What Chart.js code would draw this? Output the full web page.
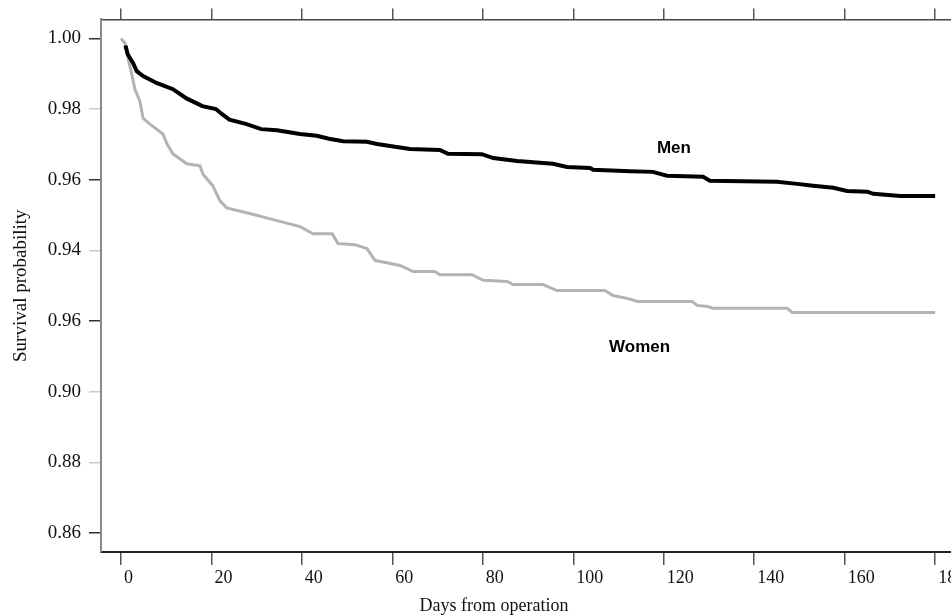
<!DOCTYPE html>
<html>
<head>
<meta charset="utf-8">
<script src="https://cdn.jsdelivr.net/npm/chart.js@4"></script>
<style>
  html, body { margin: 0; padding: 0; background: #ffffff; }
  #wrap { width: 951px; height: 615px; position: relative; }
</style>
</head>
<body>
<div id="wrap"><canvas id="c" width="951" height="615"></canvas></div>
<script>
// ---- data ----
const menDays = [1, 1.5, 2.7, 3.5, 4.9, 8, 11.5, 14.5, 18, 21, 22.3, 24, 27.8, 31, 34.5, 39.6, 43.3, 46, 49.1, 54.4, 56.6, 59.5, 63.9, 70.5, 72.3, 79.8, 82.3, 87.6, 95.5, 98.6, 103.7, 104.4, 112.6, 117.6, 120.7, 128.7, 130.2, 145, 149.5, 153, 157.5, 160.5, 165, 166.3, 172.3, 180];
const menSurv = [0.998, 0.9955, 0.993, 0.9907, 0.9893, 0.9873, 0.9856, 0.983, 0.9808, 0.980, 0.9786, 0.977, 0.9757, 0.9743, 0.974, 0.9729, 0.9724, 0.9716, 0.9709, 0.9707, 0.9701, 0.9695, 0.9687, 0.9684, 0.9673, 0.9672, 0.9661, 0.9653, 0.9645, 0.9636, 0.9633, 0.9628, 0.9624, 0.9622, 0.9611, 0.9608, 0.9597, 0.9594, 0.9588, 0.9583, 0.9577, 0.9568, 0.9566, 0.956, 0.9554, 0.9554];

const womenDays = [0, 0.9, 1.5, 2.4, 3.1, 4.2, 4.9, 6.4, 9.3, 10.2, 11.5, 14.6, 17.5, 18.1, 20.3, 21.9, 23.4, 28.5, 34.5, 39.6, 42.5, 46.7, 48, 51.7, 54.4, 56.2, 58.8, 61.7, 64.6, 69.4, 70.5, 77.6, 80.1, 85.4, 86.7, 93.3, 96.4, 107, 108.8, 111.9, 114.3, 126.3, 127.4, 129.8, 130.7, 147.3, 148.4, 180];
const womenSurv = [1.0, 0.9986, 0.9949, 0.9898, 0.9856, 0.9822, 0.9774, 0.9757, 0.9729, 0.9701, 0.9673, 0.9645, 0.9639, 0.9616, 0.9583, 0.954, 0.952, 0.9504, 0.9484, 0.9467, 0.9447, 0.9447, 0.9419, 0.9416, 0.9405, 0.9371, 0.9365, 0.9357, 0.934, 0.934, 0.9331, 0.9331, 0.9315, 0.9312, 0.9303, 0.9303, 0.9286, 0.9286, 0.9272, 0.9264, 0.9255, 0.9255, 0.9244, 0.9241, 0.9236, 0.9236, 0.9224, 0.9224];

const xTickValues = [0, 20, 40, 60, 80, 100, 120, 140, 160, 180];
const xTickLabels = ["0", "20", "40", "60", "80", "100", "120", "140", "160", "180"];
const yTickValues = [0.86, 0.88, 0.90, 0.92, 0.94, 0.96, 0.98, 1.00];
const yTickLabels = ["0.86", "0.88", "0.90", "0.96", "0.94", "0.96", "0.98", "1.00"];

const seriesNames = ["Men", "Women"];
const seriesLabelAnchors = [[118.5, 0.969], [107.9, 0.9125]]; // day, survival
const xTitle = "Days from operation";
const yTitle = "Survival probability";

// ---- chart ----
const toPts = (xs, ys) => xs.map((x, i) => ({ x: x, y: ys[i] }));
const X_MIN = -4.4, X_MAX = 183.5, Y_MIN = 0.8546, Y_MAX = 1.00536;
const darkY = [0.86, 0.92, 0.96, 1.00];

const labelPlugin = {
  id: 'curveLabels',
  afterDraw(chart) {
    const ctx = chart.ctx;
    const xs = chart.scales.x, ys = chart.scales.y;
    ctx.save();
    ctx.fillStyle = '#000';
    ctx.font = 'bold 17px "Liberation Sans", Arial, sans-serif';
    ctx.textAlign = 'left';
    ctx.textBaseline = 'middle';
    seriesNames.forEach((n, i) => {
      const a = seriesLabelAnchors[i];
      ctx.fillText(n, xs.getPixelForValue(a[0]), ys.getPixelForValue(a[1]));
    });
    ctx.font = '18px "Liberation Serif", "Times New Roman", serif';
    ctx.textAlign = 'center';
    ctx.fillStyle = '#111';
    ctx.fillText(xTitle, 494, 606);
    ctx.restore();
  }
};

new Chart(document.getElementById('c'), {
  type: 'line',
  data: {
    datasets: [
      { label: seriesNames[1], data: toPts(womenDays, womenSurv), borderColor: '#b3b3b3', borderWidth: 3, pointRadius: 0, tension: 0, fill: false, order: 2 },
      { label: seriesNames[0], data: toPts(menDays, menSurv), borderColor: '#000000', borderWidth: 4, pointRadius: 0, tension: 0, fill: false, order: 1 }
    ]
  },
  options: {
    responsive: false,
    animation: false,
    parsing: true,
    layout: { padding: 0 },
    plugins: { legend: { display: false }, tooltip: { enabled: false }, title: { display: false } },
    scales: {
      x: {
        type: 'linear', position: 'bottom', min: X_MIN, max: X_MAX,
        afterBuildTicks: s => { s.ticks = xTickValues.map(v => ({ value: v })); },
        afterFit: s => { s.height = 63; s.paddingLeft = 0; s.paddingRight = 0; },
        ticks: {
          callback: (v, i) => xTickLabels[i],
          align: 'start', labelOffset: 3, padding: 2, maxRotation: 0, autoSkip: false,
          color: '#111', font: { family: '"Liberation Serif", "Times New Roman", serif', size: 18 }
        },
        grid: { drawOnChartArea: false, drawTicks: true, tickLength: 13, color: '#555', lineWidth: 1.5 },
        border: { display: true, color: '#222', width: 2 },
        title: { display: false }
      },
      x2: {
        type: 'linear', position: 'top', min: X_MIN, max: X_MAX,
        afterBuildTicks: s => { s.ticks = xTickValues.map(v => ({ value: v })); },
        afterFit: s => { s.height = 18; s.paddingLeft = 0; s.paddingRight = 0; },
        ticks: { display: false },
        grid: { drawOnChartArea: false, drawTicks: true, tickLength: 11, color: '#555', lineWidth: 1.5 },
        border: { display: true, color: '#444', width: 1.5 }
      },
      y: {
        type: 'linear', position: 'left', min: Y_MIN, max: Y_MAX,
        afterBuildTicks: s => { s.ticks = yTickValues.map(v => ({ value: v })); },
        afterFit: s => { s.width = 101; },
        ticks: {
          callback: (v, i) => yTickLabels[i],
          padding: 8, autoSkip: false,
          color: '#111', font: { family: '"Liberation Serif", "Times New Roman", serif', size: 19 }
        },
        grid: {
          drawOnChartArea: false, drawTicks: true, tickLength: 12, lineWidth: 1.5,
          color: c => (c.tick && darkY.some(d => Math.abs(d - c.tick.value) < 1e-6)) ? '#333' : '#c8c8c8'
        },
        border: { display: true, color: '#8a8a8a', width: 2 },
        title: {
          display: true, text: yTitle, color: '#111', padding: { top: 10, bottom: 0 },
          font: { family: '"Liberation Serif", "Times New Roman", serif', size: 19 }
        }
      }
    }
  },
  plugins: [labelPlugin]
});
</script>
</body>
</html>
